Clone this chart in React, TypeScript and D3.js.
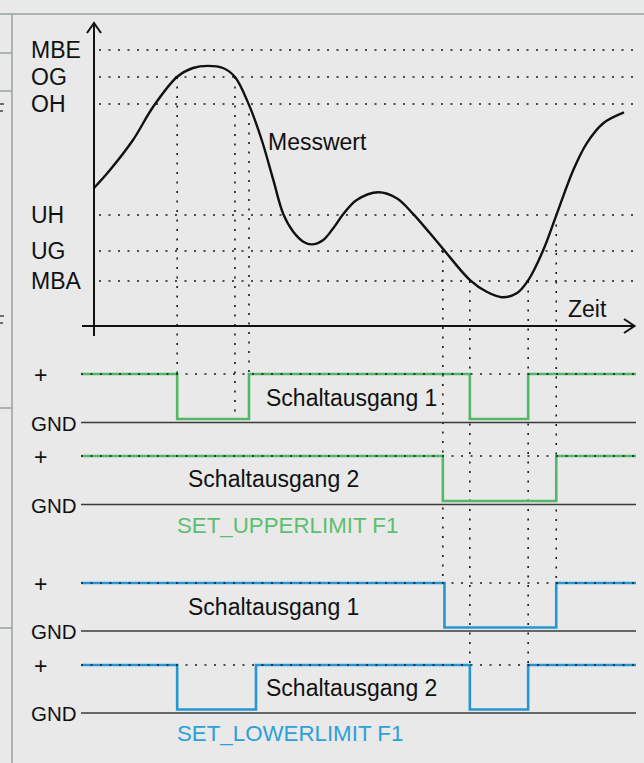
import React, { useEffect } from 'react';
import * as d3 from 'd3';

// threshold levels (value axis)
const levelLabels = ['MBE', 'OG', 'OH', 'UH', 'UG', 'MBA'];
const levelValues = [92, 83, 74, 37, 25, 15];

// measured value over time
const curveTime = [0, 2.96, 7.22, 10.93, 15.37, 18.33, 21.11, 23.89, 26.11, 28.7, 31.06, 33.2, 35.06, 36.9, 38.76, 40.31, 42.46, 44.31, 46.17, 48.65, 52.65, 56.06, 59.13, 62.22, 64.69, 69.63, 72.72, 75.5, 78.28, 80.43, 83.2, 85.69, 88.76, 91.24, 94.31, 98.15];
const curveValue = [46, 52, 62, 73, 83, 86, 86.7, 86, 83, 73.7, 62, 48.7, 37.3, 31.4, 28.1, 27.2, 28.7, 32.6, 37.3, 42, 44.6, 42.6, 37.3, 30.9, 25.6, 15.3, 11.4, 9.6, 10.9, 15.3, 25.3, 37.3, 52, 60.9, 67.6, 71.2];

// switching outputs: intervals where the output is at GND
const upperOut1Low = [[15.4, 28.7], [69.6, 80.4]];
const upperOut2Low = [[64.6, 85.6]];
const lowerOut1Low = [[64.9, 85.6]];
const lowerOut2Low = [[15.4, 30.0], [69.6, 80.4]];

// vertical guide lines: time, level index where it starts, row it ends on, end on low level?
const guideTime = [15.4, 26.1, 28.7, 64.6, 69.6, 80.4, 85.6];
const guideLevel = [1, 1, 2, 4, 5, 5, 3];
const guideRow = [0, 0, 0, 2, 3, 3, 2];
const guideToLow = [false, true, false, false, false, false, false];

const outLabels = ['Schaltausgang 1', 'Schaltausgang 2', 'Schaltausgang 1', 'Schaltausgang 2'];
const groupLabels = ['SET_UPPERLIMIT F1', 'SET_LOWERLIMIT F1'];

const W = 644;
const H = 763;
const GREEN = '#52b865';
const BLUE = '#2696d3';
const FONT = '"Liberation Sans", Arial, Helvetica, sans-serif';

const App: React.FC = () => {
    useEffect(() => {
        document.body.style.margin = '0';
        document.body.style.background = '#e8e9e8';
    }, []);

    const x = d3.scaleLinear().domain([0, 100]).range([94, 634]);
    const y = d3.scaleLinear().domain([0, 100]).range([326, 26]);

    const rows = [
        { high: 374, gnd: 422.5, color: GREEN, low: upperOut1Low, labelX: 266 },
        { high: 456, gnd: 504.5, color: GREEN, low: upperOut2Low, labelX: 188 },
        { high: 583, gnd: 631, color: BLUE, low: lowerOut1Low, labelX: 188 },
        { high: 665, gnd: 713, color: BLUE, low: lowerOut2Low, labelX: 266 },
    ];
    const lowOf = (r: { gnd: number }) => r.gnd - 3.5;
    const tStart = x.invert(81);
    const tEnd = x.invert(636);

    const curveLine = d3.line<number>()
        .x((_, i) => x(curveTime[i]))
        .y((d) => y(d))
        .curve(d3.curveCatmullRom.alpha(0.5));

    const stepPath = (r: typeof rows[0]) => {
        const pts: [number, number][] = [[x(tStart), r.high]];
        r.low.forEach(([a, b]) => {
            pts.push([x(a), r.high], [x(a), lowOf(r)], [x(b), lowOf(r)], [x(b), r.high]);
        });
        pts.push([x(tEnd), r.high]);
        return d3.line()(pts) || '';
    };

    const dots = { stroke: '#1a1a1a', strokeWidth: 1.6, strokeDasharray: '2 7.5', fill: 'none' };

    return (
        <svg width={W} height={H} style={{ display: 'block', background: '#e8e9e8', fontFamily: FONT }}>
            {/* frame pieces */}
            <line x1={0} x2={W} y1={14} y2={14} stroke="#98a1a1" strokeWidth={1.5} />
            <line x1={12} x2={12} y1={14} y2={H} stroke="#98a1a1" strokeWidth={1.5} />
            {[53, 91, 408, 628].map((yy) => (
                <line key={yy} x1={0} x2={12} y1={yy} y2={yy} stroke="#98a1a1" strokeWidth={1.5} />
            ))}
            {/* clipped glyph fragments at the left edge */}
            {[104, 316].map((yy) => (
                <path key={yy} d={`M0,${yy} L4,${yy} M0,${yy + 7} L3,${yy + 7}`} stroke="#444" strokeWidth={1.5} />
            ))}

            {/* level lines + labels */}
            {levelValues.map((v, i) => (
                <g key={levelLabels[i]}>
                    <line x1={99} x2={636} y1={y(v)} y2={y(v)} {...dots} />
                    <text x={31} y={y(v)} dy="0.36em" fontSize={23} fill="#111">{levelLabels[i]}</text>
                </g>
            ))}

            {/* vertical guides */}
            {guideTime.map((t, i) => {
                const r = rows[guideRow[i]];
                return (
                    <line key={i} x1={x(t)} x2={x(t)} y1={y(levelValues[guideLevel[i]])}
                        y2={guideToLow[i] ? lowOf(r) : r.high} {...dots} />
                );
            })}

            {/* axes */}
            <line x1={94} x2={94} y1={336} y2={24} stroke="#111" strokeWidth={2} />
            <path d="M87,33 L94,23 L101,33" fill="none" stroke="#111" strokeWidth={2} />
            <line x1={82} x2={634} y1={326} y2={326} stroke="#111" strokeWidth={2} />
            <path d="M624,319 L634.5,326 L624,333" fill="none" stroke="#111" strokeWidth={2} />
            <text x={568} y={317} fontSize={23} fill="#111">Zeit</text>

            {/* measured value */}
            <path d={curveLine(curveValue) || ''} fill="none" stroke="#111" strokeWidth={2.4} />
            <text x={268} y={150} fontSize={23} fill="#111">Messwert</text>

            {/* switching outputs */}
            {rows.map((r, i) => (
                <g key={i}>
                    <line x1={81} x2={636} y1={r.gnd} y2={r.gnd} stroke="#3a3a3c" strokeWidth={1.6} />
                    <path d={stepPath(r)} fill="none" stroke={r.color} strokeWidth={2.6} />
                    <line x1={81} x2={636} y1={r.high} y2={r.high} {...dots} />
                    <text x={34} y={r.high + 9} fontSize={23} fill="#111">+</text>
                    <text x={31} y={r.gnd + 8} fontSize={20.5} fill="#111">GND</text>
                    <text x={r.labelX} y={r.high + (i % 2 === 0 ? 32 : 31)} fontSize={23} fill="#111">{outLabels[i]}</text>
                </g>
            ))}
            <text x={177} y={533} fontSize={22.3} fill="#5cbf6f">{groupLabels[0]}</text>
            <text x={177} y={741} fontSize={22.3} fill="#2ea0d8">{groupLabels[1]}</text>
        </svg>
    );
};

export default App;
